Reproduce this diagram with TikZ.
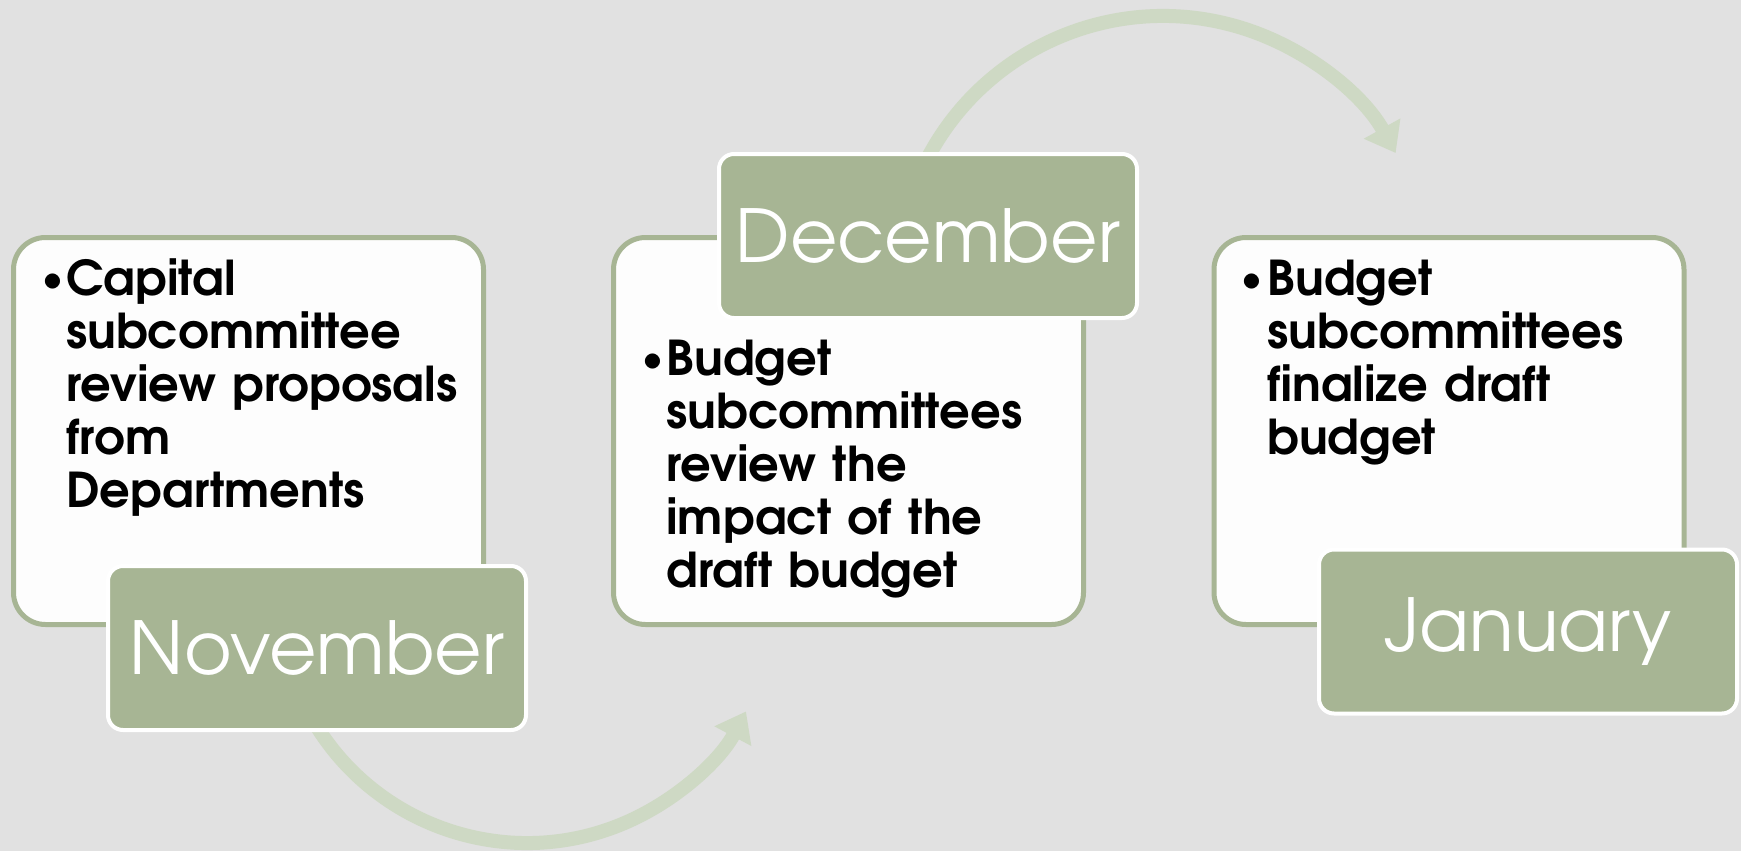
\documentclass[tikz,border=0pt]{standalone}
\usepackage{fontspec}
\setmainfont{texgyreadventor}[Extension=.otf, UprightFont=*-regular, BoldFont=*-bold]
\usepackage{tikz}
\usetikzlibrary{arrows.meta}
\definecolor{paper}{RGB}{225,225,225}
\definecolor{sage}{RGB}{167,181,148}
\definecolor{palesage}{RGB}{206,217,196}
\definecolor{notewhite}{RGB}{253,253,253}
\tikzset{
	notebox/.style={draw=sage, line width=2.5pt, fill=notewhite, rounded corners=16pt, minimum width=235pt, minimum height=193.5pt},
	monthbox/.style={draw=white, line width=2pt, fill=sage, rounded corners=7.5pt, minimum width=209pt, minimum height=82pt, text=white, font=\fontsize{36.5pt}{40pt}\selectfont},
	bodytext/.style={anchor=base west, inner sep=0pt, text width=220pt, align=left, font=\fontsize{24pt}{26.5pt}\selectfont\bfseries},
	dotmark/.style={anchor=base west, inner sep=0pt, font=\fontsize{18pt}{20pt}\selectfont\bfseries},
	flowarc/.style={draw=palesage, line width=7pt, -{Triangle[length=14pt,width=20pt]}}
}

\begin{document}
\begin{tikzpicture}[x=0.5pt, y=-0.5pt]

		% background
		\fill[paper] (0,0) rectangle (1741,851);
		\useasboundingbox (0,0) rectangle (1741,851);

		% curved arrows behind the boxes
		\coordinate (lowhub) at (527,595);
		\coordinate (highhub) at (1163,282);
		\draw[flowarc] ([shift={(155:248)}]lowhub) arc[start angle=155, end angle=28, radius=248];
		\draw[flowarc] ([shift={(200:266)}]highhub) arc[start angle=200, end angle=331, radius=266];

		% note boxes
		\node[notebox] (capnote) at (248.5,431) {};
		\node[notebox] (revnote) at (848.5,431) {};
		\node[notebox] (finnote) at (1449,431) {};

		% month boxes
		\node[monthbox] (nov) at (317,648) {November};
		\node[monthbox] (dec) at (928,236) {December};
		\node[monthbox] (jan) at (1528,631.5) {January};

		% bullet texts
		\node[dotmark] (capdot) at (42,290) {\textbullet};
		\node[bodytext] (captext) at (66,295) {Capital\\subcommittee\\review proposals\\from\\Departments};
		\node[dotmark] (revdot) at (642,370) {\textbullet};
		\node[bodytext] (revtext) at (666,375) {Budget\\subcommittees\\review the\\impact of the\\draft budget};
		\node[dotmark] (findot) at (1241,290) {\textbullet};
		\node[bodytext] (fintext) at (1267,295) {Budget\\subcommittees\\finalize draft\\budget};

\end{tikzpicture}
\end{document}
